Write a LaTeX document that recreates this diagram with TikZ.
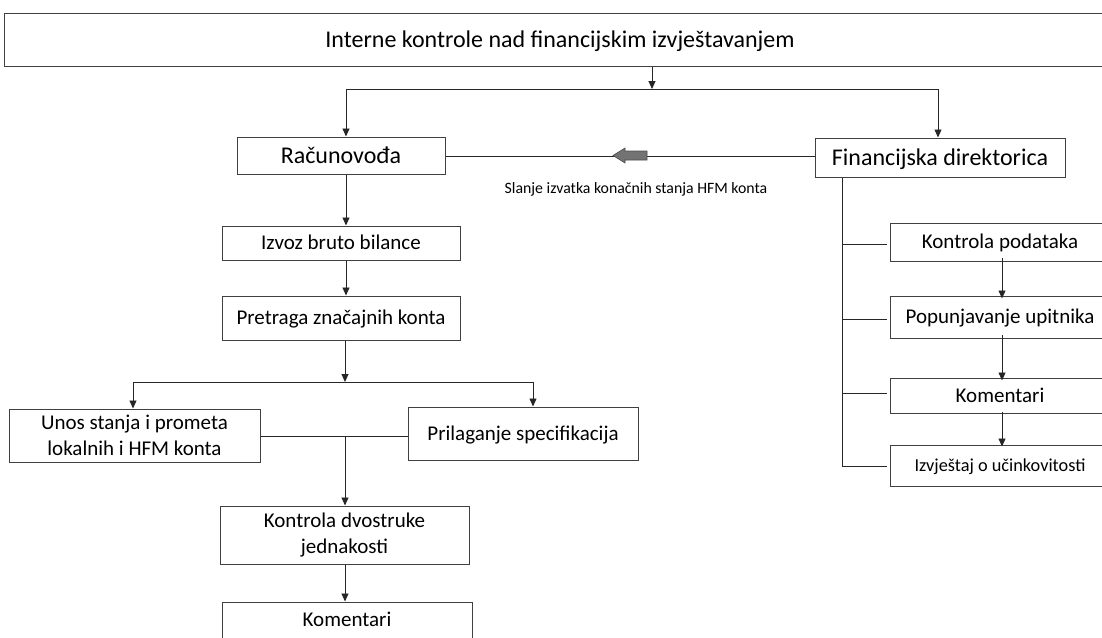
\documentclass[tikz,border=0pt]{standalone}
\usepackage{fontspec}
\setmainfont{Carlito}
\usetikzlibrary{arrows.meta}
\begin{document}
\begin{tikzpicture}[x=1pt,y=-1pt,
  box/.style={draw=black!75, line width=1pt, inner sep=0pt, text height=18pt, text depth=4.6pt, font=\fontsize{21}{26}\selectfont},
  mbox/.style={draw=black!75, line width=1pt, inner sep=0pt, align=center, font=\fontsize{21}{26}\selectfont},
  bigbox/.style={box, text height=20pt, text depth=4.6pt, font=\fontsize{24}{28}\selectfont},
  ln/.style={draw=black!85, line width=0.9pt},
  arr/.style={ln, -{Triangle[length=8pt,width=7pt]}},
  lbl/.style={font=\fontsize{15.8}{18}\selectfont, inner sep=0pt}]
\useasboundingbox (0,0) rectangle (1102,637);
\clip (0,0) rectangle (1102,637);
% nodes
\node[bigbox, minimum width=1112pt, minimum height=53pt] (top) at (560,39.5) {Interne kontrole nad financijskim izvještavanjem};
\node[bigbox, minimum width=208pt, minimum height=37pt] (rac) at (341,155.5) {Računovođa};
\node[bigbox, minimum width=250pt, minimum height=39pt] (fin) at (940,157.5) {Financijska direktorica};
\node[box, minimum width=238pt, minimum height=34pt] (izv) at (341,243) {Izvoz bruto bilance};
\node[box, minimum width=238pt, minimum height=44pt] (pre) at (341,318) {Pretraga značajnih konta};
\node[mbox, minimum width=251pt, minimum height=53pt] (uno) at (134.5,435.5) {Unos stanja i prometa\\lokalnih i HFM konta};
\node[box, minimum width=230pt, minimum height=53pt] (pri) at (523,433.5) {Prilaganje specifikacija};
\node[mbox, minimum width=249pt, minimum height=58pt] (kdv) at (344.5,535) {Kontrola dvostruke\\jednakosti};
\node[box, minimum width=250pt, minimum height=70pt, text depth=38.6pt] (kml) at (347,637) {Komentari};
\node[box, minimum width=220pt, minimum height=38pt] (kpo) at (1000,242) {Kontrola podataka};
\node[box, minimum width=220pt, minimum height=42pt] (pop) at (1000,317) {Popunjavanje upitnika};
\node[box, minimum width=220pt, minimum height=35pt] (kmr) at (1000,395.5) {Komentari};
\node[box, minimum width=220pt, minimum height=41pt, text height=16pt, text depth=4.3pt, font=\fontsize{18.3}{22}\selectfont] (izj) at (1000,465.5) {Izvještaj o učinkovitosti};
% top connectors
\coordinate (j0) at (652,89);
\coordinate (jl) at (346,89);
\coordinate (jr) at (938,89);
\draw[arr] (top.south -| j0) -- (j0);
\draw[ln] (jl) -- (jr);
\draw[arr] (jl) -- (jl |- rac.north);
\draw[arr] (jr) -- (jr |- fin.north);
% rac - fin with block arrow
\draw[ln] (rac.east |- 0,156) -- (fin.west |- 0,156);
\coordinate (ba) at (630,155.5);
\filldraw[fill=black!55, draw=black!70, line width=0.6pt]
  ([xshift=-17pt]ba) -- ([xshift=-5pt,yshift=-7.5pt]ba) -- ([xshift=-5pt,yshift=-4.5pt]ba) -- ([xshift=17pt,yshift=-4.5pt]ba)
  -- ([xshift=17pt,yshift=4.5pt]ba) -- ([xshift=-5pt,yshift=4.5pt]ba) -- ([xshift=-5pt,yshift=7.5pt]ba) -- cycle;
\node[lbl] (sl) at (636,189) {Slanje izvatka konačnih stanja HFM konta};
% left column
\coordinate (cl) at (346,0);
\draw[arr] (rac.south -| cl) -- (izv.north -| cl);
\draw[arr] (izv.south -| cl) -- (pre.north -| cl);
\coordinate (j2) at (345,382);
\coordinate (j2l) at (133,382);
\coordinate (j2r) at (533,382);
\draw[arr] (pre.south -| j2) -- (j2);
\draw[ln] (j2l) -- (j2r);
\draw[arr] (j2l) -- (j2l |- uno.north);
\draw[arr] (j2r) -- (j2r |- pri.north);
\coordinate (j3) at (345,436);
\draw[ln] (uno.east |- j3) -- (pri.west |- j3);
\draw[arr] (j3) -- (kdv.north -| j3);
\draw[arr] (kdv.south -| j3) -- (kml.north -| j3);
% right column
\coordinate (rv) at (842,0);
\coordinate (b1) at (842,244);
\coordinate (b2) at (842,319);
\coordinate (b3) at (842,393);
\coordinate (b4) at (842,466);
\draw[ln] (fin.south -| rv) -- (b4);
\draw[ln] (b1) -- ([xshift=-3pt]kpo.west |- b1);
\draw[ln] (b2) -- ([xshift=-3pt]pop.west |- b2);
\draw[ln] (b3) -- ([xshift=-3pt]kmr.west |- b3);
\draw[ln] (b4) -- ([xshift=-3pt]izj.west |- b4);
\coordinate (ra) at (1002,0);
\draw[arr] ([yshift=4pt]kpo.south -| ra) -- ([yshift=-3pt]pop.north -| ra);
\draw[arr] ([yshift=4pt]pop.south -| ra) -- ([yshift=-3pt]kmr.north -| ra);
\draw[arr] ([yshift=2pt]kmr.south -| ra) -- ([yshift=-2pt]izj.north -| ra);
\end{tikzpicture}
\end{document}
